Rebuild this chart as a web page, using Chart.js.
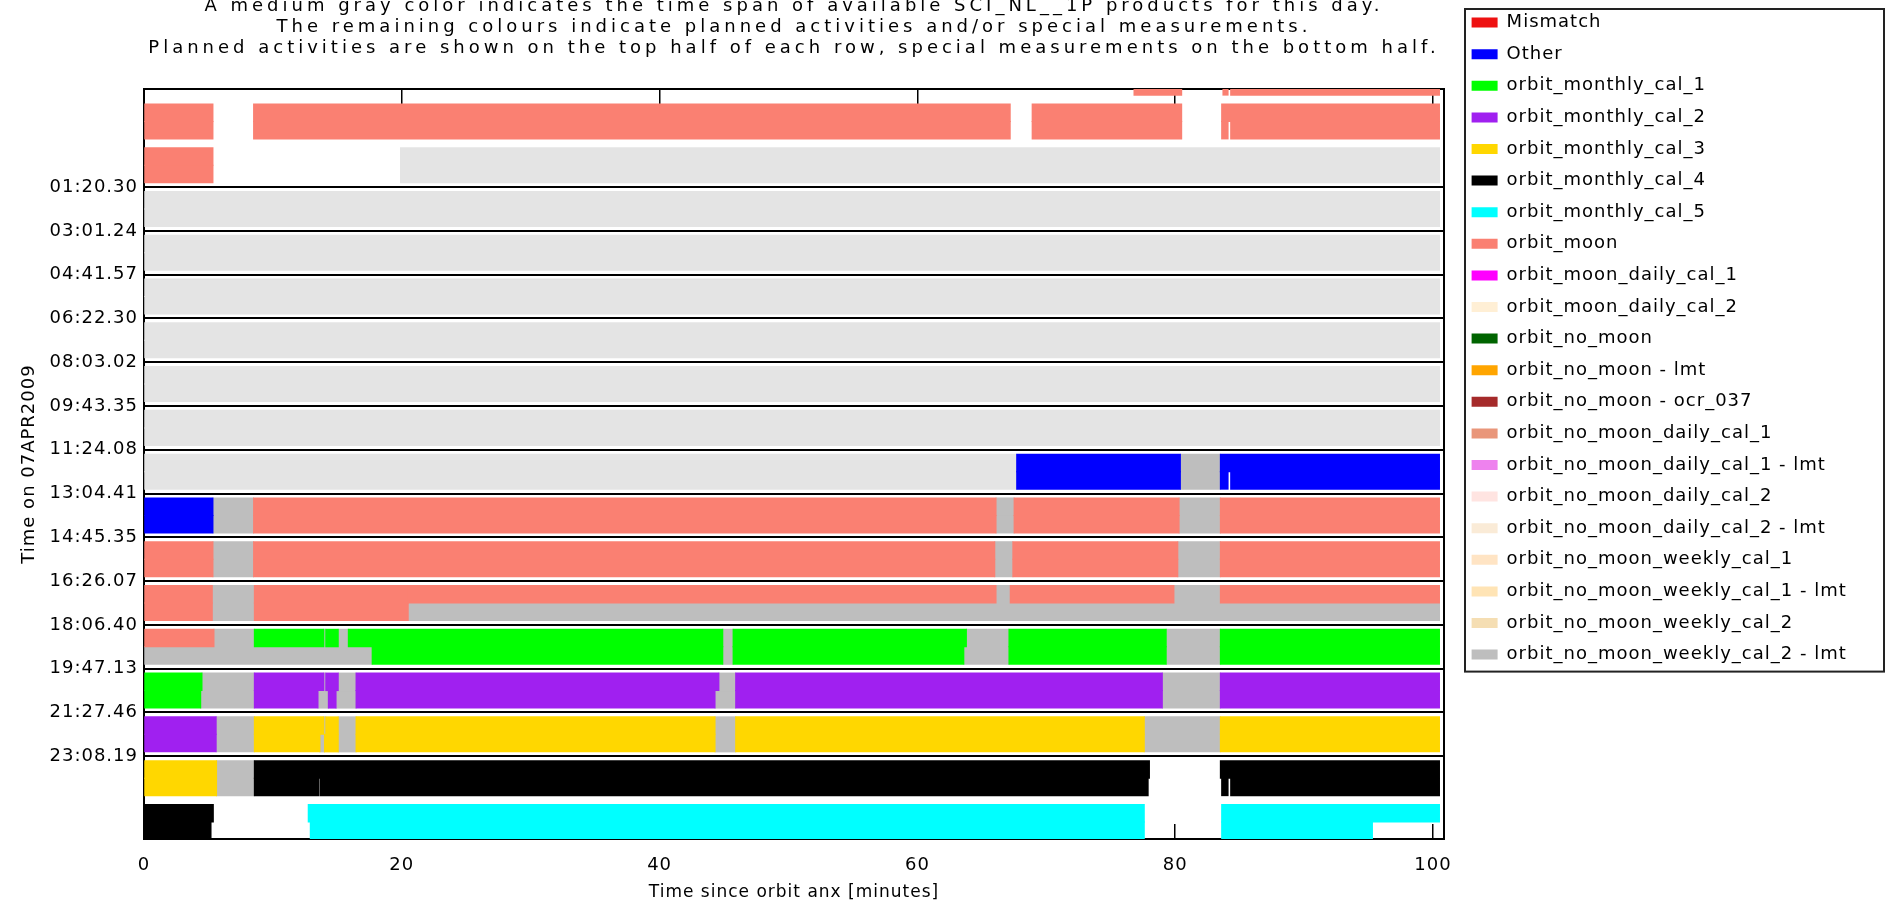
<!DOCTYPE html>
<html>
<head>
<meta charset="utf-8">
<title>Orbit activities 07APR2009</title>
<script src="https://cdn.jsdelivr.net/npm/chart.js@4.4.1/dist/chart.umd.min.js"></script>
<style>
  html, body { margin: 0; padding: 0; background: #fff; }
  canvas { display: block; }
</style>
</head>
<body>
<canvas id="orbits" width="1886" height="903"></canvas>
<script>
// Title lines above the plot
const TITLE_LINES = [
  "A medium gray color indicates the time span of available SCI_NL__1P products for this day.",
  "The remaining colours indicate planned activities and/or special measurements.",
  "Planned activities are shown on the top half of each row, special measurements on the bottom half.",
];

// Orbit start times, labelled on the row boundaries (first labelled row is row 3)
const ROW_LABELS = [
  "01:20.30", "03:01.24", "04:41.57", "06:22.30", "08:03.02", "09:43.35", "11:24.08",
  "13:04.41", "14:45.35", "16:26.07", "18:06.40", "19:47.13", "21:27.46", "23:08.19",
];
const FIRST_LABELED_ROW = 3;
const ROW_RANGE = [0.26, 17.39];   // visible part of the row axis

// Minutes since orbit ANX
const X_TICKS = [0, 20, 40, 60, 80, 100];
const X_MAX = 100.85;

// Legend categories and their colours
const CATEGORIES = [
  "Mismatch", "Other",
  "orbit_monthly_cal_1", "orbit_monthly_cal_2", "orbit_monthly_cal_3", "orbit_monthly_cal_4", "orbit_monthly_cal_5",
  "orbit_moon", "orbit_moon_daily_cal_1", "orbit_moon_daily_cal_2",
  "orbit_no_moon", "orbit_no_moon - lmt", "orbit_no_moon - ocr_037",
  "orbit_no_moon_daily_cal_1", "orbit_no_moon_daily_cal_1 - lmt",
  "orbit_no_moon_daily_cal_2", "orbit_no_moon_daily_cal_2 - lmt",
  "orbit_no_moon_weekly_cal_1", "orbit_no_moon_weekly_cal_1 - lmt",
  "orbit_no_moon_weekly_cal_2", "orbit_no_moon_weekly_cal_2 - lmt",
];
const CATEGORY_COLORS = [
  "#ee1111", "#0000ff",
  "#00ff00", "#a020f0", "#ffd700", "#000000", "#00ffff",
  "#fa8072", "#ff00ff", "#ffefd5",
  "#006400", "#ffa500", "#a52a2a",
  "#e9967a", "#ee82ee",
  "#ffe4e1", "#faebd7",
  "#ffe4c4", "#ffe4b5",
  "#f5deb3", "#bebebe",
];
const AVAILABLE_COLOR = "#e4e4e4";

// Segments: [row, half, start, end]; half T = top (planned), B = bottom (special), F = both
const segAvailable = [
  [2, "F", 19.9, 100.5],
  [3, "F", 0, 100.5], [4, "F", 0, 100.5], [5, "F", 0, 100.5],
  [6, "F", 0, 100.5], [7, "F", 0, 100.5], [8, "F", 0, 100.5],
  [9, "F", 0, 67.7],
];

const segOther = [
  [9, "F", 67.7, 80.4], [9, "T", 83.5, 100.5], [9, "B", 83.5, 84.1], [9, "B", 84.3, 100.5],
  [10, "F", 0, 5.35],
];

const segMoon = [
  [0, "B", 76.8, 80.5], [0, "B", 83.7, 84.1], [0, "B", 84.3, 100.5],
  [1, "F", 0, 5.35], [1, "F", 8.5, 67.2], [1, "F", 68.9, 80.5],
  [1, "T", 83.6, 100.5], [1, "B", 83.6, 84.1], [1, "B", 84.3, 100.5],
  [2, "F", 0, 5.35],
  [10, "F", 8.5, 66.1], [10, "F", 67.5, 80.3], [10, "F", 83.5, 100.5],
  [11, "F", 0, 5.35], [11, "F", 8.5, 66.0], [11, "F", 67.4, 80.2], [11, "F", 83.5, 100.5],
  [12, "F", 0, 5.3], [12, "F", 8.56, 20.5], [12, "T", 20.5, 66.1], [12, "T", 67.2, 79.9], [12, "T", 83.5, 100.5],
  [13, "T", 0, 5.43],
];

const segMonthly1 = [
  [13, "T", 8.56, 13.95], [13, "T", 14.1, 15.07], [13, "T", 15.85, 44.9], [13, "B", 17.7, 44.9],
  [13, "T", 45.7, 63.8], [13, "B", 45.7, 63.6], [13, "F", 67.1, 79.3], [13, "F", 83.5, 100.5],
  [14, "T", 0, 4.5], [14, "B", 0, 4.4],
];

const segMonthly2 = [
  [14, "T", 8.56, 13.95], [14, "T", 14.1, 15.07], [14, "B", 8.56, 13.5], [14, "B", 14.3, 14.9],
  [14, "T", 16.45, 44.6], [14, "B", 16.45, 44.3], [14, "F", 45.9, 79.0], [14, "F", 83.5, 100.5],
  [15, "F", 0, 5.6],
];

const segMonthly3 = [
  [15, "T", 8.56, 13.95], [15, "T", 14.1, 15.07], [15, "B", 8.56, 13.65], [15, "B", 14.0, 15.07],
  [15, "F", 16.45, 44.3], [15, "F", 45.9, 77.6], [15, "F", 83.5, 100.5],
  [16, "F", 0, 5.63],
];

const segMonthly4 = [
  [16, "T", 8.56, 78.0], [16, "B", 8.56, 13.55], [16, "B", 13.65, 77.9],
  [16, "T", 83.5, 100.5], [16, "B", 83.6, 84.1], [16, "B", 84.3, 100.5],
  [17, "T", 0, 5.38], [17, "B", 0, 5.2],
];

const segMonthly5 = [
  [17, "T", 12.74, 77.6], [17, "B", 12.9, 77.6], [17, "T", 83.6, 100.5], [17, "B", 83.6, 95.3],
];

const segWeekly2Lmt = [
  [9, "F", 80.4, 83.5],
  [10, "F", 5.35, 8.5], [10, "F", 66.1, 67.5], [10, "F", 80.3, 83.5],
  [11, "F", 5.35, 8.5], [11, "F", 66.0, 67.4], [11, "F", 80.2, 83.5],
  [12, "F", 5.3, 8.56], [12, "T", 66.1, 67.2], [12, "T", 79.9, 83.5], [12, "B", 20.5, 100.5],
  [13, "T", 5.43, 8.56], [13, "T", 13.95, 14.1], [13, "T", 15.07, 15.85], [13, "B", 0, 17.7],
  [13, "F", 44.9, 45.7], [13, "T", 63.8, 67.1], [13, "B", 63.6, 67.1], [13, "F", 79.3, 83.5],
  [14, "T", 4.5, 8.56], [14, "B", 4.4, 8.56], [14, "T", 13.95, 14.1], [14, "B", 13.5, 14.3],
  [14, "T", 15.07, 16.45], [14, "B", 14.9, 16.45], [14, "T", 44.6, 45.9], [14, "B", 44.3, 45.9],
  [14, "F", 79.0, 83.5],
  [15, "F", 5.6, 8.56], [15, "T", 13.95, 14.1], [15, "B", 13.65, 14.0], [15, "F", 15.07, 16.45],
  [15, "F", 44.3, 45.9], [15, "F", 77.6, 83.5],
  [16, "F", 5.63, 8.56],
];

// same order as CATEGORIES
const CATEGORY_SEGMENTS = [
  [], segOther,
  segMonthly1, segMonthly2, segMonthly3, segMonthly4, segMonthly5,
  segMoon, [], [],
  [], [], [],
  [], [],
  [], [],
  [], [],
  [], segWeekly2Lmt,
];

const FONT = "'DejaVu Sans', sans-serif";
const LEGEND_LEFT = 1458;

/**
 * Floating bars for one half of the rows (top = planned, bottom = special).
 */
function halfBars(segments, half) {
  return segments
    .filter((s) => s[1] === "F" || s[1] === half)
    .map((s) => ({ x: [s[2], s[3]], y: s[0] }));
}

function buildDatasets() {
  const sets = [];
  CATEGORIES.forEach((name, i) => {
    sets.push({ label: name, stack: "top", backgroundColor: CATEGORY_COLORS[i], data: halfBars(CATEGORY_SEGMENTS[i], "T") });
    sets.push({ label: name, stack: "bottom", backgroundColor: CATEGORY_COLORS[i], data: halfBars(CATEGORY_SEGMENTS[i], "B") });
  });
  // product availability goes last so it sits underneath
  sets.push({ label: "available", stack: "top", hideInLegend: true, backgroundColor: AVAILABLE_COLOR, data: halfBars(segAvailable, "T") });
  sets.push({ label: "available", stack: "bottom", hideInLegend: true, backgroundColor: AVAILABLE_COLOR, data: halfBars(segAvailable, "B") });
  return sets;
}

// Wider text, the original uses a broad stroke font
const textSpacing = {
  id: "textSpacing",
  beforeLayout(chart) { chart.ctx.letterSpacing = "1px"; },
  beforeDraw(chart) {
    const ctx = chart.ctx;
    ctx.letterSpacing = "1px";
    const block = chart.titleBlock;
    if (block && !block.widened) {
      const draw = block.draw;
      block.draw = function (area) {
        const prev = ctx.letterSpacing;
        ctx.letterSpacing = "4px";
        draw.call(this, area);
        ctx.letterSpacing = prev;
      };
      block.widened = true;
    }
  },
};

// Box around the legend
const legendFrame = {
  id: "legendFrame",
  afterDraw(chart) {
    const lg = chart.legend;
    const hits = lg && lg.legendHitBoxes;
    if (!hits || !hits.length) return;
    const last = hits[hits.length - 1];
    const ctx = chart.ctx;
    const left = lg.left + 7;
    const top = lg.top + 9;
    ctx.save();
    ctx.strokeStyle = "#222";
    ctx.lineWidth = 2;
    ctx.strokeRect(left, top, chart.width - 2 - left, last.top + last.height + 8 - top);
    ctx.restore();
  },
};

const xTicks = (scale) => { scale.ticks = X_TICKS.map((v) => ({ value: v })); };

const chart = new Chart(document.getElementById("orbits"), {
  type: "bar",
  data: { datasets: buildDatasets() },
  plugins: [textSpacing, legendFrame],
  options: {
    responsive: false,
    animation: false,
    events: [],
    indexAxis: "y",
    layout: { padding: { left: 0, right: 40, top: 0, bottom: 0 } },
    datasets: {
      bar: {
        xAxisID: "x",
        yAxisID: "y",
        categoryPercentage: 0.8,
        barPercentage: 1,
        borderWidth: 0,
        inflateAmount: 0.5,
        clip: 0,
      },
    },
    plugins: {
      tooltip: { enabled: false },
      title: {
        display: true,
        fullSize: false,
        text: TITLE_LINES,
        color: "#000",
        font: { family: FONT, size: 18, weight: "normal", lineHeight: "21px" },
        padding: { top: -4.5, bottom: 30.5 },
      },
      legend: {
        position: "right",
        align: "start",
        maxWidth: 470,
        onClick: null,
        labels: {
          boxWidth: 26,
          boxHeight: 10,
          padding: 13.6,
          color: "#000",
          font: { family: FONT, size: 18 },
          filter: (item, data) => {
            const ds = data.datasets[item.datasetIndex];
            return ds.stack === "top" && !ds.hideInLegend;
          },
        },
      },
    },
    scales: {
      x: {
        type: "linear",
        position: "bottom",
        min: 0,
        max: X_MAX,
        stacked: false,
        afterBuildTicks: xTicks,
        afterFit: (s) => { s.height = 64; },
        ticks: { color: "#000", font: { family: FONT, size: 18 }, padding: 31, maxRotation: 0, autoSkip: false, callback: (v) => String(v) },
        grid: { drawOnChartArea: false, drawTicks: true, tickLength: -15, color: "#000", lineWidth: 1.5 },
        border: { display: true, color: "#000", width: 2 },
        title: { display: true, text: "Time since orbit anx [minutes]", color: "#000", font: { family: FONT, size: 17 }, padding: { top: 0, bottom: 0 } },
      },
      x2: {
        type: "linear",
        position: "top",
        min: 0,
        max: X_MAX,
        afterBuildTicks: xTicks,
        afterFit: (s) => { s.height = 0; },
        ticks: { display: false },
        grid: { drawOnChartArea: false, drawTicks: true, tickLength: -15, color: "#000", lineWidth: 1.5 },
        border: { display: true, color: "#000", width: 2 },
      },
      y: {
        type: "linear",
        position: "left",
        reverse: true,
        offset: false,
        min: ROW_RANGE[0],
        max: ROW_RANGE[1],
        afterBuildTicks: (s) => {
          s.ticks = ROW_LABELS.map((_, i) => ({ value: FIRST_LABELED_ROW + i - 0.5 }));
        },
        afterFit: (s) => { s.width = 144; },
        ticks: { color: "#000", font: { family: FONT, size: 18 }, padding: 6, autoSkip: false, callback: (v, i) => ROW_LABELS[i] },
        grid: { color: "#000", lineWidth: 2, drawTicks: false, offset: false },
        border: { display: true, color: "#000", width: 2 },
        title: { display: true, text: "Time on 07APR2009", color: "#000", font: { family: FONT, size: 18 }, padding: { top: 19, bottom: 0 } },
      },
      yR: {
        type: "linear",
        position: "right",
        min: 0,
        max: 1,
        afterFit: (s) => { s.width = 14; },
        ticks: { display: false },
        grid: { display: false },
        border: { display: true, color: "#000", width: 2 },
      },
    },
  },
});

// keep the legend's left edge where the original has it
chart.options.layout.padding.right = Math.max(0, chart.width - LEGEND_LEFT - chart.legend.width);
chart.update();
</script>
</body>
</html>
